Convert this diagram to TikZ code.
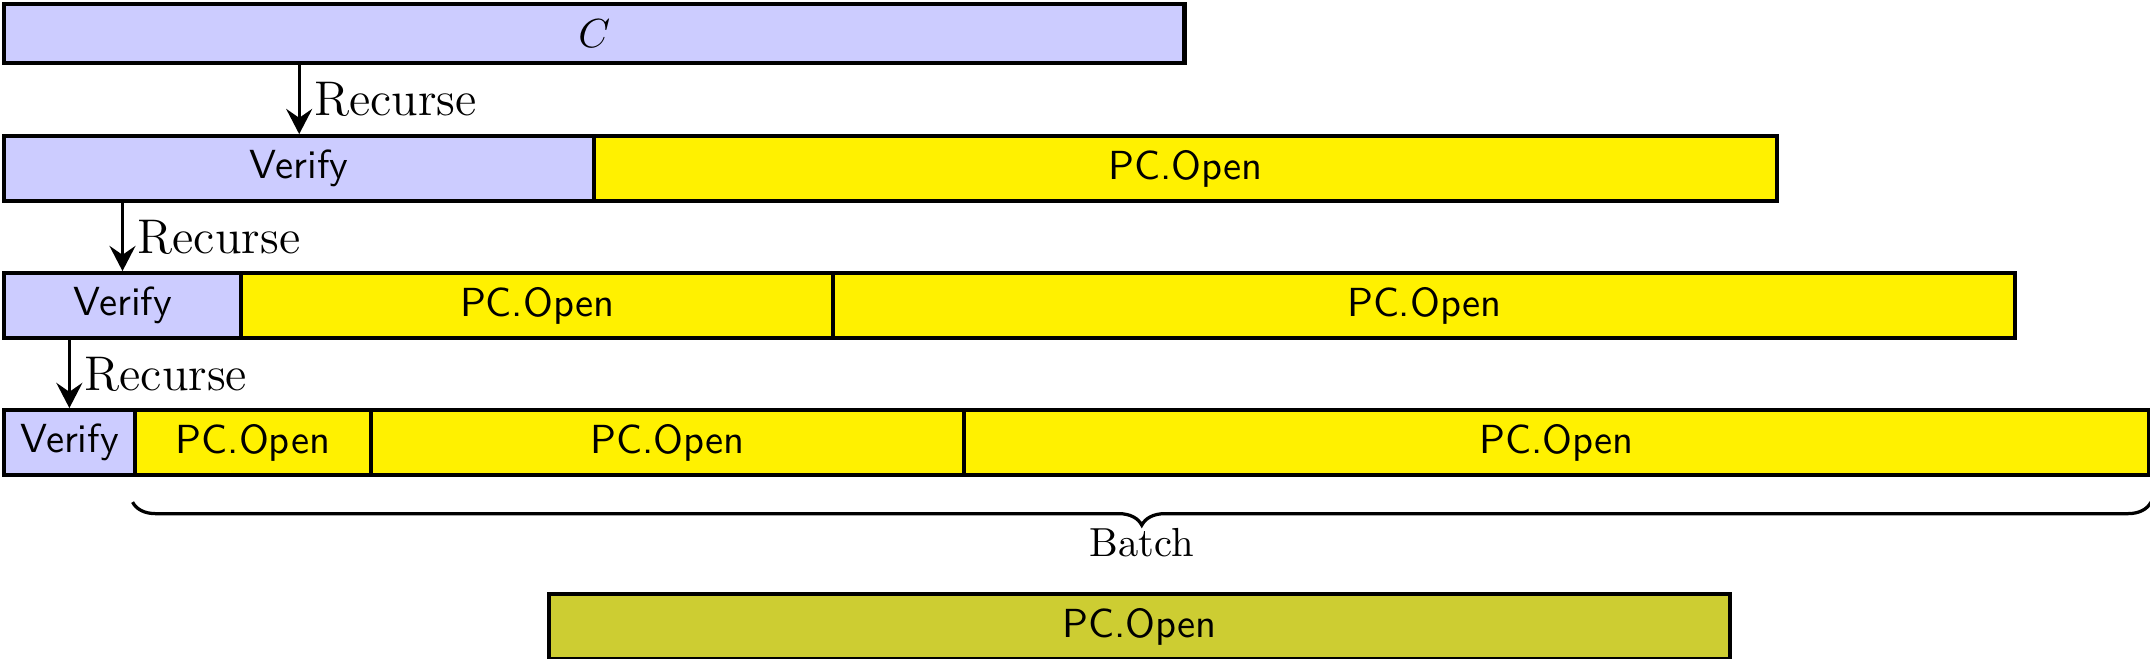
\documentclass[tikz,border=0pt]{standalone}
\usepackage{tikz}
\usetikzlibrary{decorations.pathreplacing,calc,arrows.meta}
\definecolor{myblue}{HTML}{CCCCFF}
\definecolor{myyellow}{HTML}{FFF100}
\definecolor{myolive}{HTML}{CDCD32}

\tikzset{
  part/.style={draw, line width=1pt, anchor=north west, inner sep=0pt, minimum height=0.563cm, font=\sffamily},
  recurse/.style={-{Stealth[length=6.2pt, width=6.4pt, inset=2.2pt]}, thick},
}

\begin{document}
\begin{tikzpicture}
    \useasboundingbox (-0.018cm,0.018cm) rectangle (18.597cm,-5.68cm);

    % oben
    \node[part, fill=myblue, minimum height=0.511cm, minimum width=10.22cm] (c) at (0cm,0cm) {$C$};

    % die drei Ebenen
    \foreach \x/\y/\w/\name/\col/\tag in {
        0/-1.143/5.11/v1/myblue/Verify,
        5.11/-1.143/10.24/o11/myyellow/PC.Open,
        0/-2.329/2.05/v2/myblue/Verify,
        2.05/-2.329/5.13/o21/myyellow/PC.Open,
        7.18/-2.329/10.23/o22/myyellow/PC.Open,
        0/-3.515/1.13/v3/myblue/Verify,
        1.13/-3.515/2.05/o31/myyellow/PC.Open,
        3.18/-3.515/5.13/o32/myyellow/PC.Open,
        8.31/-3.515/10.26/o33/myyellow/PC.Open
    } {
        \node[part, fill=\col, minimum width=\w cm] (\name) at (\x cm,\y cm) {\tag};
    };

    \node[part, fill=myolive, minimum width=10.22cm] (batched) at (4.72cm,-5.108cm) {PC.Open};

    % Pfeile
    \draw[recurse] (c.south -| v1.north) -- (v1.north)
        node[midway, right, font=\large] {Recurse};
    \draw[recurse] (v1.south -| v2.north) -- (v2.north)
        node[midway, right, font=\large] {Recurse};
    \draw[recurse] (v2.south -| v3.north) -- (v3.north)
        node[midway, right, font=\large] {Recurse};

    % Klammer
    \draw[thick, decorate, decoration={brace, mirror, amplitude=0.2cm}]
        ([yshift=-0.216cm]o31.south west) -- ([yshift=-0.216cm]o33.south east)
        node[midway, below=0.1cm] (batch) {Batch};

\end{tikzpicture}
\end{document}
